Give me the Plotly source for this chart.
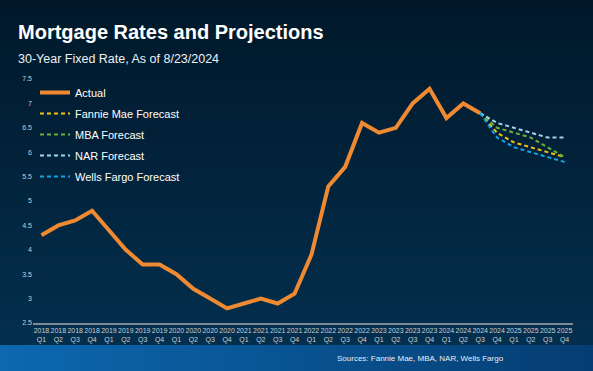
import plotly.graph_objects as go

# ---------------- data ----------------
quarters = [
    "2018 Q1", "2018 Q2", "2018 Q3", "2018 Q4",
    "2019 Q1", "2019 Q2", "2019 Q3", "2019 Q4",
    "2020 Q1", "2020 Q2", "2020 Q3", "2020 Q4",
    "2021 Q1", "2021 Q2", "2021 Q3", "2021 Q4",
    "2022 Q1", "2022 Q2", "2022 Q3", "2022 Q4",
    "2023 Q1", "2023 Q2", "2023 Q3", "2023 Q4",
    "2024 Q1", "2024 Q2", "2024 Q3", "2024 Q4",
    "2025 Q1", "2025 Q2", "2025 Q3", "2025 Q4",
]
tick_labels = [q.replace(" ", "<br>") for q in quarters]

actual_x = quarters[:27]
actual = [4.3, 4.5, 4.6, 4.8, 4.4, 4.0, 3.7, 3.7, 3.5, 3.2, 3.0, 2.8,
          2.9, 3.0, 2.9, 3.1, 3.9, 5.3, 5.7, 6.6, 6.4, 6.5, 7.0, 7.3,
          6.7, 7.0, 6.8]

forecast_x = quarters[26:]
fannie_mae = [6.8, 6.4, 6.2, 6.1, 6.0, 5.9]
mba = [6.8, 6.5, 6.4, 6.3, 6.1, 5.9]
nar = [6.8, 6.6, 6.5, 6.4, 6.3, 6.3]
wells_fargo = [6.8, 6.3, 6.1, 6.0, 5.9, 5.8]

y_ticks = [2.5, 3, 3.5, 4, 4.5, 5, 5.5, 6, 6.5, 7, 7.5]

# ---------------- layout geometry ----------------
W, H = 593, 371
L, R, T, B = 33, 20, 79, 48
PW, PH = W - L - R, H - T - B


def pxx(px):
    return (px - L) / PW


def pxy(py):
    return (H - B - py) / PH


def lerp(c1, c2, t):
    a = [int(c1[i:i + 2], 16) for i in (1, 3, 5)]
    b = [int(c2[i:i + 2], 16) for i in (1, 3, 5)]
    return "#" + "".join(f"{round(a[k] + (b[k] - a[k]) * t):02x}" for k in range(3))


shapes = []
# main dark vertical gradient
FOOT = 345
step = 3
for y0 in range(0, FOOT, step):
    y1 = min(y0 + step, FOOT)
    col = lerp("#01182a", "#032f4e", y0 / FOOT)
    shapes.append(dict(type="rect", xref="paper", yref="paper", layer="below",
                       x0=pxx(0), x1=pxx(W), y0=pxy(y1 + 0.5), y1=pxy(y0),
                       fillcolor=col, line=dict(width=0)))
# footer horizontal gradient
xs = 5
for x0 in range(0, W, xs):
    x1 = min(x0 + xs, W)
    col = lerp("#0d68b0", "#053d72", x0 / W)
    shapes.append(dict(type="rect", xref="paper", yref="paper", layer="below",
                       x0=pxx(x0), x1=pxx(x1 + 0.5), y0=pxy(H), y1=pxy(FOOT),
                       fillcolor=col, line=dict(width=0)))

fig = go.Figure()

fig.add_trace(go.Scatter(x=actual_x, y=actual, mode="lines", name="Actual",
                         line=dict(color="#F08A32", width=4), legendgroup="a"))
dash = "4px,3px"
fig.add_trace(go.Scatter(x=forecast_x, y=fannie_mae, mode="lines", name="Fannie Mae Forecast",
                         line=dict(color="#F5C212", width=2, dash=dash), legendgroup="b"))
fig.add_trace(go.Scatter(x=forecast_x, y=mba, mode="lines", name="MBA Forecast",
                         line=dict(color="#6DAF3E", width=2, dash=dash), legendgroup="c"))
fig.add_trace(go.Scatter(x=forecast_x, y=nar, mode="lines", name="NAR Forecast",
                         line=dict(color="#A3D3EC", width=2, dash=dash), legendgroup="d"))
fig.add_trace(go.Scatter(x=forecast_x, y=wells_fargo, mode="lines", name="Wells Fargo Forecast",
                         line=dict(color="#15A0E6", width=2, dash=dash), legendgroup="e"))

FONT = "Liberation Sans, Arial, sans-serif"

annotations = [
    dict(text="<b>Mortgage Rates and Projections</b>", x=pxx(16), y=pxy(32),
         xref="paper", yref="paper", xanchor="left", yanchor="middle", showarrow=False,
         font=dict(family=FONT, size=20, color="#ffffff")),
    dict(text="30-Year Fixed Rate, As of 8/23/2024", x=pxx(16), y=pxy(59),
         xref="paper", yref="paper", xanchor="left", yanchor="middle", showarrow=False,
         font=dict(family=FONT, size=12.5, color="#eef2f5")),
    dict(text="Sources: Fannie Mae, MBA, NAR, Wells Fargo", x=pxx(506), y=pxy(358),
         xref="paper", yref="paper", xanchor="right", yanchor="middle", showarrow=False,
         font=dict(family=FONT, size=8, color="#e6eef5")),
]

fig.update_layout(
    width=W, height=H,
    margin=dict(l=L, r=R, t=T, b=B, pad=0),
    paper_bgcolor="#01182a", plot_bgcolor="rgba(0,0,0,0)",
    shapes=shapes, annotations=annotations,
    showlegend=True,
    legend=dict(x=pxx(35), y=pxy(78), xanchor="left", yanchor="top",
                bgcolor="rgba(0,0,0,0)", font=dict(family=FONT, size=11, color="#ffffff"),
                tracegroupgap=2, itemwidth=30),
    xaxis=dict(type="category", categoryorder="array", categoryarray=quarters,
               tickvals=quarters, ticktext=tick_labels, range=[-0.5, len(quarters) - 0.5],
               showgrid=False, zeroline=False, showline=True, linecolor="#7d8a96", linewidth=1.5,
               ticks="", tickfont=dict(family=FONT, size=7, color="#c9ced4"), tickangle=0),
    yaxis=dict(range=[2.5, 7.5], tickvals=y_ticks, showgrid=False, zeroline=False,
               showline=False, ticks="", tickfont=dict(family=FONT, size=7, color="#c9ced4")),
    font=dict(family=FONT),
)

fig.write_html("out.html", config={"displayModeBar": False},
               post_script="document.body.style.margin='0';document.body.style.background='#01182a';")
